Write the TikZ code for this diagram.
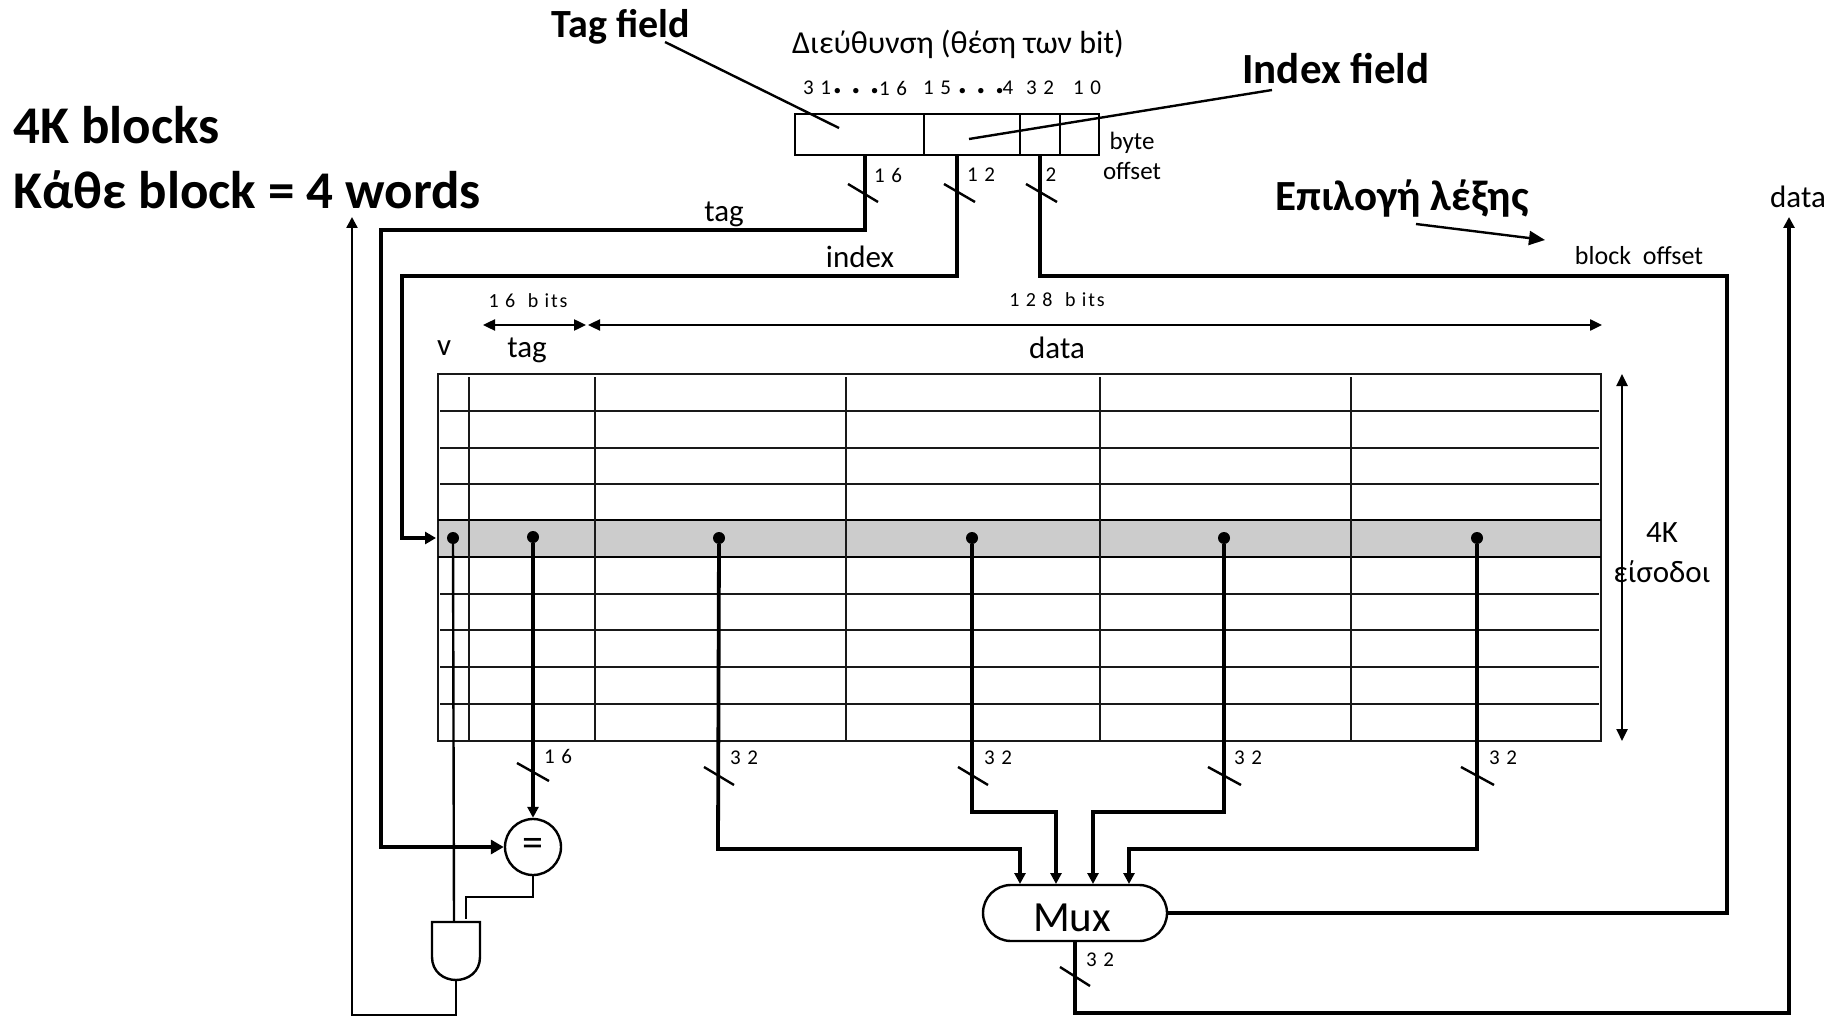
\documentclass[tikz,border=0pt]{standalone}
\usepackage{fontspec}
\setmainfont{Carlito}
\usetikzlibrary{arrows.meta,shapes.misc}
\newcommand{\fs}[1]{\fontsize{#1}{#1}\selectfont}
\tikzset{
  lbl/.style={inner sep=0pt,font=\fs{#1}},
  lbl/.default=28,
  spaced/.style={inner sep=0pt,font=\fs{#1}\addfontfeatures{LetterSpace=9}},
  big/.style={inner sep=0pt,font=\fs{#1}\bfseries},
  grid/.style={line width=2.3pt,black!90},
  bus/.style={line width=3.8pt,line join=miter},
  thin/.style={line width=2.4pt},
  slash/.style={line width=2.4pt},
  tipbig/.style={-{Triangle[length=13pt,width=14pt]}},
  tipsm/.style={-{Triangle[length=11pt,width=11pt]}},
  both/.style={{Triangle[length=12pt,width=11pt]}-{Triangle[length=12pt,width=11pt]}},
  pin/.style={circle,fill=black,inner sep=0pt,minimum size=12pt},
}
\begin{document}
\begin{tikzpicture}[x=1pt,y=-1pt]
\useasboundingbox (0,0) rectangle (1839,1016);
\fill[white] (0,0) rectangle (1839,1016);

% titles
\node[big=53,anchor=west] (t1) at (13,125) {4K blocks};
\node[big=53,anchor=west] (t2) at (13,190) {Κάθε block = 4 words};
\node[big=40] (tf) at (621,27) {Tag field};
\node[big=43] (xf) at (1336,69) {Index field};
\node[big=43] (ep) at (1402,199) {Επιλογή λέξης};
\node[lbl=32] (addr) at (958,44) {Διεύθυνση (θέση των bit)};

% bit positions
\node[spaced=21] at (817,88) {3 1};
\node[big=36] at (856,91) {.\hspace{9pt}.\hspace{9pt}.};
\node[spaced=21] at (893,88) {1 6};
\node[spaced=21] at (937,88) {1 5};
\node[big=36] at (981,91) {.\hspace{9pt}.\hspace{9pt}.};
\node[lbl=21] at (1008,88) {4};
\node[spaced=21] at (1040,88) {3 2};
\node[spaced=21] at (1087,88) {1 0};

% address register
\draw[thin] (795,114) rectangle (1099,155);
\foreach \x in {924,1020,1060} \draw[thin] (\x,114) -- (\x,155);
\coordinate (atag) at (865,155);
\coordinate (aidx) at (957,155);
\coordinate (aoff) at (1040,155);

\node[lbl=25] (byte) at (1132,143) {byte};
\node[lbl=25] (offs) at (1132,171) {offset};

% pointer lines
\coordinate (ptag) at (839,128);
\coordinate (pidx) at (969,139);
\draw[line width=2.4pt] (665,42) -- (ptag);
\draw[line width=2.4pt] (1272,90) -- (pidx);
\draw[line width=2.4pt,-{Triangle[length=16pt,width=14pt]}] (1416,224) -- (1545,240);

% table
\fill[black!20] (438,520) rectangle (1601,557);
\draw[grid] (438,374) -- (1601,374) -- (1601,741) -- (438,741) -- cycle;
\foreach \y in {411,448,484,594,630,667,704} \draw[grid] (440,\y) -- (1599,\y);
\draw[line width=2.8pt] (438,520) -- (1601,520);
\draw[line width=2.8pt] (438,557) -- (1601,557);
\foreach \x in {469,595,846,1100,1351} \draw[grid] (\x,377) -- (\x,741);

% column headings
\node[spaced=20] (b16) at (528,301) {1 6\ \ b its};
\node[spaced=20] (b128) at (1057,300) {1 2 8\ \ b its};
\node[lbl=31] (cv) at (444,348) {v};
\node[lbl=31] (ctag) at (527,350) {tag};
\node[lbl=31] (cdata) at (1057,348) {data};
\draw[thin,both] (483,325) -- (586,325);
\draw[thin,both] (588,325) -- (1602,325);
\draw[thin,both] (1622,374) -- (1622,741);
\node[lbl=31] (k4) at (1662,533) {4K};
\node[lbl=31] (eis) at (1662,572) {είσοδοι};

% selected row pins
\node[pin] (dv) at (453,538) {};
\node[pin] (dt) at (533,537) {};
\node[pin] (d1) at (719,538) {};
\node[pin] (d2) at (972,538) {};
\node[pin] (d3) at (1224,538) {};
\node[pin] (d4) at (1477,538) {};

% comparator, gate, mux
\node[circle,draw,line width=2.4pt,minimum size=56pt,inner sep=0pt,font=\fs{42}] (eq) at (533,847) {=};
\node[rounded rectangle,draw,line width=2.4pt,minimum width=184pt,minimum height=56pt,inner sep=0pt] (mux) at (1075,913) {};
\node[lbl=43] (muxt) at (1072,918) {Mux};
\coordinate (gtl) at (432,922);
\coordinate (gtr) at (480,922);
\coordinate (gin1) at (454,922);
\coordinate (gin2) at (466,919);
\coordinate (gout) at (456,980);
\draw[line width=2.4pt] (gtl) -- (432,957) .. controls (432,972) and (444,980) .. (gout) .. controls (468,980) and (480,972) .. (480,957) -- (gtr) -- cycle;

% buses from the address
\draw[bus,tipbig] (atag) -- (865,230) -- (381,230) -- (381,847) -- (eq.west);
\draw[bus,-{Triangle[length=11pt,width=12pt]}] (aidx) -- (957,276) -- (402,276) -- (402,538) -- (436,538);
\draw[bus] (aoff) -- (1040,276) -- (1727,276) -- (1727,913) -- (mux.east);
\foreach \a/\b/\c in {848/878/184,944/975/184,1026/1057/184}
  \draw[slash] (\a,\c) -- (\b,\c+18);
\node[spaced=21] at (888,175) {1 6};
\node[spaced=21] at (981,175) {1 2};
\node[lbl=21] at (1051,175) {2};
\node[lbl=31] (ltag) at (724,214) {tag};
\node[lbl=31] (lidx) at (860,257) {index};
\node[lbl=26] (lblk) at (1639,256) {block\ \ offset};
\node[lbl=31] (ldat) at (1798,197) {data};

% outputs of the row
\draw[thin] (dv) -- (gin1);
\draw[bus,tipsm] (dt) -- (eq.north);
\draw[bus,tipsm] (d1) -- (718,849) -- (1020,849) -- (1020,884);
\draw[bus,tipsm] (d2) -- (972,812) -- (1056,812) -- (1056,884);
\draw[bus,tipsm] (d3) -- (1224,812) -- (1093,812) -- (1093,884);
\draw[bus,tipsm] (d4) -- (1477,849) -- (1129,849) -- (1129,884);
\foreach \a/\b/\c in {517/549/763,704/734/767,958/988/767,1208/1241/767,1461/1494/767}
  \draw[slash] (\a,\c) -- (\b,\c+18);
\node[spaced=21] at (558,756) {1 6};
\node[spaced=21] at (744,758) {3 2};
\node[spaced=21] at (998,758) {3 2};
\node[spaced=21] at (1248,758) {3 2};
\node[spaced=21] at (1503,758) {3 2};

% hit logic
\draw[thin] (eq.south) -- (533,897) -- (466,897) -- (gin2);
\draw[thin,tipsm] (gout) -- (456,1015) -- (352,1015) -- (352,217);

% data out
\draw[bus,tipsm] (mux.south) -- (1075,1013) -- (1789,1013) -- (1789,217);
\draw[slash] (1060,967) -- (1090,986);
\node[spaced=21] at (1100,960) {3 2};
\end{tikzpicture}
\end{document}
